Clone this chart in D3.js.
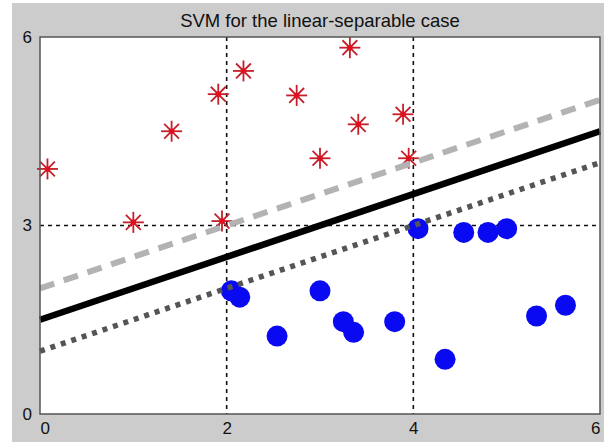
<!DOCTYPE html>
<html>
<head>
<meta charset="utf-8">
<script src="https://cdn.jsdelivr.net/npm/d3@7"></script>
<style>
  body { margin: 0; background: #fff; }
  svg { display: block; font-family: "Liberation Sans", Arial, sans-serif; }
  .tick text { font-size: 17px; fill: #111; }
</style>
</head>
<body>
<svg id="chart"></svg>
<script>
// class +1 (red stars)
const posX = [0.08, 1.00, 1.41, 1.91, 1.95, 2.18, 2.75, 3.00, 3.32, 3.41, 3.89, 3.95];
const posY = [3.90, 3.05, 4.50, 5.09, 3.07, 5.46, 5.07, 4.07, 5.83, 4.61, 4.77, 4.07];

// class -1 (blue circles)
const negX = [2.05, 2.14, 2.54, 3.00, 3.25, 3.36, 3.80, 4.05, 4.34, 4.54, 4.80, 5.00, 5.32, 5.63];
const negY = [1.96, 1.86, 1.24, 1.96, 1.47, 1.30, 1.47, 2.95, 0.87, 2.89, 2.89, 2.95, 1.56, 1.73];

// separating hyperplane and margins, evaluated at the x limits
const lineX = [0, 6];
const boundaryY = [1.5, 4.5];
const upperMarginY = [2.0, 5.0];
const lowerMarginY = [1.0, 4.0];

const xTicks = [0, 2, 4, 6];
const yTicks = [0, 3, 6];
const xGrid = [2, 4];
const yGrid = [3];

const titleText = "SVM for the linear-separable case";

const W = 604, H = 442;
const margin = {top: 37, right: 4, bottom: 28, left: 40};
const width = W - margin.left - margin.right;
const height = H - margin.top - margin.bottom;

const svg = d3.select("#chart").attr("width", W).attr("height", H);

// figure background
svg.append("rect")
  .attr("x", 12).attr("y", 3)
  .attr("width", W - 12).attr("height", H - 3)
  .attr("fill", "#cccccc");

const x = d3.scaleLinear().domain([0, 6]).range([0, width]);
const y = d3.scaleLinear().domain([0, 6]).range([height, 0]);

const g = svg.append("g")
  .attr("transform", `translate(${margin.left},${margin.top})`);

// axes area
g.append("rect")
  .attr("width", width).attr("height", height)
  .attr("fill", "#fff");

// grid lines
g.selectAll(".vgrid").data(xGrid).join("line")
  .attr("class", "vgrid")
  .attr("x1", d => x(d)).attr("x2", d => x(d))
  .attr("y1", 0).attr("y2", height)
  .attr("stroke", "#111").attr("stroke-width", 1.6)
  .attr("stroke-dasharray", "4,4");

g.selectAll(".hgrid").data(yGrid).join("line")
  .attr("class", "hgrid")
  .attr("x1", 0).attr("x2", width)
  .attr("y1", d => y(d)).attr("y2", d => y(d))
  .attr("stroke", "#111").attr("stroke-width", 1.6)
  .attr("stroke-dasharray", "4,4");

// red stars
const pos = posX.map((v, i) => ({x: v, y: posY[i]}));
const arm = 10.5;
const star = g.selectAll(".star").data(pos).join("g")
  .attr("class", "star")
  .attr("transform", d => `translate(${x(d.x)},${y(d.y)})`);
[0, 45, 90, 135].forEach(a => {
  const r = a * Math.PI / 180;
  star.append("line")
    .attr("x1", -arm * Math.cos(r)).attr("y1", -arm * Math.sin(r))
    .attr("x2", arm * Math.cos(r)).attr("y2", arm * Math.sin(r))
    .attr("stroke", "#c41f2a").attr("stroke-width", 1.8);
});
star.append("circle").attr("r", 2.8).attr("fill", "#e0101e");

// blue circles
const neg = negX.map((v, i) => ({x: v, y: negY[i]}));
g.selectAll(".dot").data(neg).join("circle")
  .attr("class", "dot")
  .attr("cx", d => x(d.x)).attr("cy", d => y(d.y))
  .attr("r", 10.5)
  .attr("fill", "#0a0af2");

// hyperplane lines
const line = d3.line().x(d => x(d[0])).y(d => y(d[1]));
const seg = ys => lineX.map((v, i) => [v, ys[i]]);

g.append("path")
  .datum(seg(upperMarginY))
  .attr("d", line)
  .attr("fill", "none")
  .attr("stroke", "#b3b3b3").attr("stroke-width", 6)
  .attr("stroke-dasharray", "15,10");

g.append("path")
  .datum(seg(lowerMarginY))
  .attr("d", line)
  .attr("fill", "none")
  .attr("stroke", "#555").attr("stroke-width", 5.5)
  .attr("stroke-dasharray", "5,6");

g.append("path")
  .datum(seg(boundaryY))
  .attr("d", line)
  .attr("fill", "none")
  .attr("stroke", "#000").attr("stroke-width", 6.5);

// axes frame
g.append("rect")
  .attr("width", width).attr("height", height)
  .attr("fill", "none")
  .attr("stroke", "#555").attr("stroke-width", 1.5);

// axes
const xAxis = d3.axisBottom(x).tickValues(xTicks).tickSize(0).tickPadding(8)
  .tickFormat(d3.format("d"));
const yAxis = d3.axisLeft(y).tickValues(yTicks).tickSize(0).tickPadding(8)
  .tickFormat(d3.format("d"));

const xAxisG = g.append("g")
  .attr("transform", `translate(0,${height})`)
  .call(xAxis);
const yAxisG = g.append("g").call(yAxis);

xAxisG.select(".domain").remove();
yAxisG.select(".domain").remove();
xAxisG.attr("font-family", null).attr("font-size", null);
yAxisG.attr("font-family", null).attr("font-size", null);

// keep the end labels inside the axes span
xAxisG.selectAll(".tick text")
  .attr("text-anchor", d => d === xTicks[0] ? "start" : d === xTicks[xTicks.length - 1] ? "end" : "middle");

// title
svg.append("text")
  .attr("x", margin.left + width / 2)
  .attr("y", 27)
  .attr("text-anchor", "middle")
  .attr("font-size", 18.5)
  .attr("fill", "#111")
  .text(titleText);
</script>
</body>
</html>
